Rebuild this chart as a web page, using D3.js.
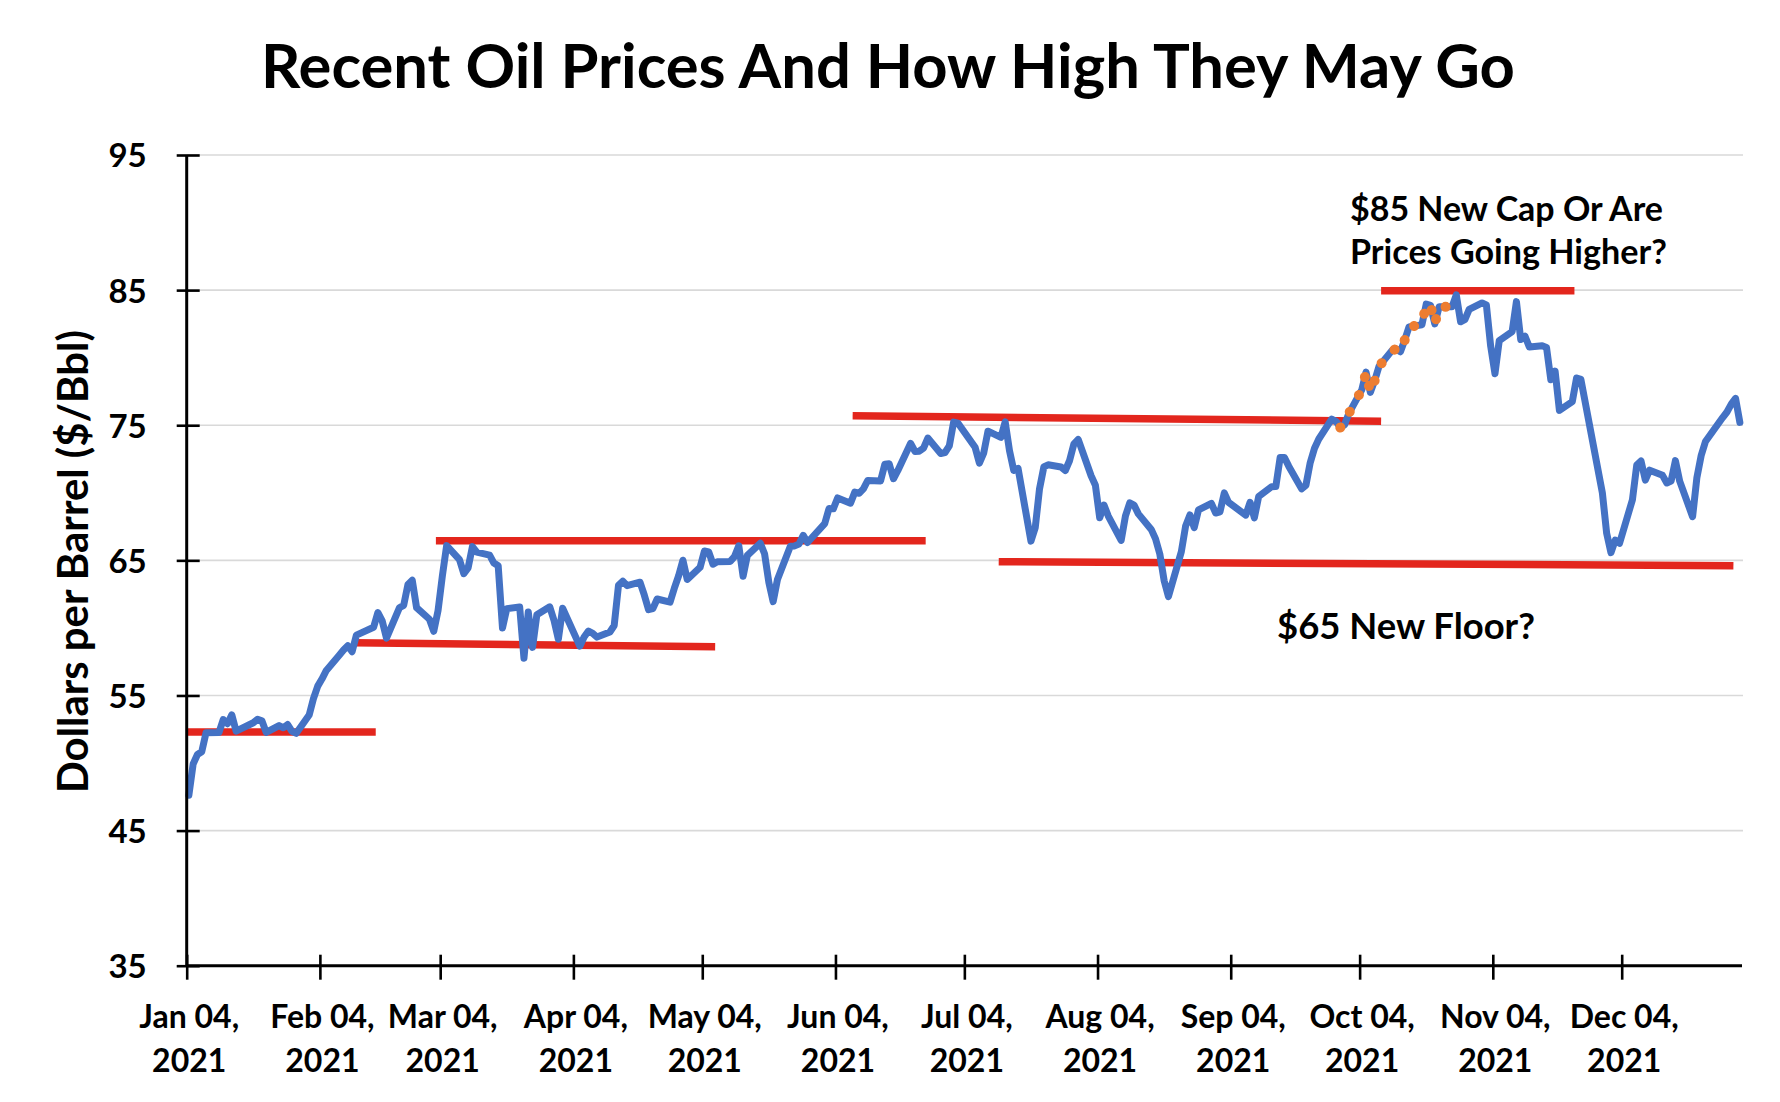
<!DOCTYPE html>
<html>
<head>
<meta charset="utf-8">
<script src="https://cdn.jsdelivr.net/npm/d3@7"></script>
<style>
  html, body { margin: 0; padding: 0; background: #ffffff; }
  svg { display: block; }
  text { font-family: Lato, "Open Sans", "DejaVu Sans", sans-serif; font-weight: 700; fill: #000; }
</style>
</head>
<body>
<svg id="chart" width="1780" height="1102"></svg>
<script>
// ---------------- DATA ----------------
const titleText = "Recent Oil Prices And How High They May Go";
const yAxisTitle = "Dollars per Barrel ($/Bbl)";

const dates = [
"2021-01-04","2021-01-05","2021-01-06","2021-01-07","2021-01-08","2021-01-11","2021-01-12","2021-01-13","2021-01-14","2021-01-15",
"2021-01-19","2021-01-20","2021-01-21","2021-01-22","2021-01-25","2021-01-26","2021-01-27","2021-01-28","2021-01-29",
"2021-02-01","2021-02-02","2021-02-03","2021-02-04","2021-02-05","2021-02-08","2021-02-09","2021-02-10","2021-02-11","2021-02-12",
"2021-02-16","2021-02-17","2021-02-18","2021-02-19","2021-02-22","2021-02-23","2021-02-24","2021-02-25","2021-02-26",
"2021-03-01","2021-03-02","2021-03-03","2021-03-04","2021-03-05","2021-03-08","2021-03-09","2021-03-10","2021-03-11","2021-03-12",
"2021-03-15","2021-03-16","2021-03-17","2021-03-18","2021-03-19","2021-03-22","2021-03-23","2021-03-24","2021-03-25","2021-03-26",
"2021-03-29","2021-03-30","2021-03-31",
"2021-04-01","2021-04-05","2021-04-06","2021-04-07","2021-04-08","2021-04-09","2021-04-12","2021-04-13","2021-04-14","2021-04-15",
"2021-04-16","2021-04-19","2021-04-20","2021-04-21","2021-04-22","2021-04-23","2021-04-26","2021-04-27","2021-04-28","2021-04-29","2021-04-30",
"2021-05-03","2021-05-04","2021-05-05","2021-05-06","2021-05-07","2021-05-10","2021-05-11","2021-05-12","2021-05-13","2021-05-14",
"2021-05-17","2021-05-18","2021-05-19","2021-05-20","2021-05-21","2021-05-24","2021-05-25","2021-05-26","2021-05-27","2021-05-28",
"2021-06-01","2021-06-02","2021-06-03","2021-06-04","2021-06-07","2021-06-08","2021-06-09","2021-06-10","2021-06-11",
"2021-06-14","2021-06-15","2021-06-16","2021-06-17","2021-06-18","2021-06-21","2021-06-22","2021-06-23","2021-06-24","2021-06-25",
"2021-06-28","2021-06-29","2021-06-30",
"2021-07-01","2021-07-02","2021-07-06","2021-07-07","2021-07-08","2021-07-09","2021-07-12","2021-07-13","2021-07-14","2021-07-15",
"2021-07-16","2021-07-19","2021-07-20","2021-07-21","2021-07-22","2021-07-23","2021-07-26","2021-07-27","2021-07-28","2021-07-29","2021-07-30",
"2021-08-02","2021-08-03","2021-08-04","2021-08-05","2021-08-06","2021-08-09","2021-08-10","2021-08-11","2021-08-12","2021-08-13",
"2021-08-16","2021-08-17","2021-08-18","2021-08-19","2021-08-20","2021-08-23","2021-08-24","2021-08-25","2021-08-26","2021-08-27",
"2021-08-30","2021-08-31",
"2021-09-01","2021-09-02","2021-09-03","2021-09-07","2021-09-08","2021-09-09","2021-09-10","2021-09-13","2021-09-14","2021-09-15",
"2021-09-16","2021-09-17","2021-09-20","2021-09-21","2021-09-22","2021-09-23","2021-09-24","2021-09-27","2021-09-28","2021-09-29","2021-09-30",
"2021-10-01","2021-10-04","2021-10-05","2021-10-06","2021-10-07","2021-10-08","2021-10-11","2021-10-12","2021-10-13","2021-10-14",
"2021-10-15","2021-10-18","2021-10-19","2021-10-20","2021-10-21","2021-10-22","2021-10-25","2021-10-26","2021-10-27","2021-10-28","2021-10-29",
"2021-11-01","2021-11-02","2021-11-03","2021-11-04","2021-11-05","2021-11-08","2021-11-09","2021-11-10","2021-11-11","2021-11-12",
"2021-11-15","2021-11-16","2021-11-17","2021-11-18","2021-11-19","2021-11-22","2021-11-23","2021-11-24","2021-11-29","2021-11-30",
"2021-12-01","2021-12-02","2021-12-03","2021-12-06","2021-12-07","2021-12-08","2021-12-09","2021-12-10","2021-12-13","2021-12-14",
"2021-12-15","2021-12-16","2021-12-17","2021-12-20","2021-12-21","2021-12-22","2021-12-23","2021-12-27","2021-12-28","2021-12-29",
"2021-12-30","2021-12-31"
];

const prices = [
47.62,49.93,50.63,50.83,52.24,52.25,53.21,52.91,53.57,52.36,
52.98,53.24,53.13,52.27,52.77,52.61,52.85,52.34,52.20,
53.55,54.76,55.69,56.23,56.85,57.97,58.36,58.68,58.24,59.47,
60.05,61.14,60.52,59.24,61.49,61.67,63.22,63.53,61.50,
60.64,59.75,61.28,63.83,66.09,65.05,64.01,64.44,66.02,65.61,
65.39,64.80,64.60,60.00,61.42,61.55,57.76,61.18,58.56,60.97,
61.56,60.55,59.16,
61.45,58.65,59.33,59.77,59.60,59.32,59.70,60.18,63.15,63.46,
63.13,63.38,62.44,61.35,61.43,62.14,61.91,62.94,63.86,65.01,63.58,
64.49,65.69,65.63,64.71,64.90,64.92,65.28,66.08,63.82,65.37,
66.27,65.49,63.36,61.94,63.58,66.05,66.07,66.21,66.85,66.32,
67.72,68.83,68.81,69.62,69.23,70.05,69.96,70.29,70.91,
70.88,72.12,72.15,71.04,71.64,73.66,73.06,73.08,73.30,74.05,
72.91,72.98,73.47,
75.23,75.16,73.37,72.20,72.94,74.56,74.10,75.25,73.13,71.65,
71.81,66.42,67.42,70.30,71.91,72.07,71.91,71.65,72.39,73.62,73.95,
71.26,70.56,68.15,69.09,68.28,66.48,68.29,69.25,69.09,68.44,
67.29,66.59,65.46,63.50,62.32,65.64,67.54,68.36,67.42,68.74,
69.21,68.50,
68.59,69.99,69.29,68.35,69.30,68.14,69.72,70.45,70.46,72.61,
72.61,71.97,70.29,70.56,72.23,73.30,73.98,75.45,75.29,74.83,75.03,
75.88,77.62,78.93,77.43,78.30,79.35,80.52,80.64,80.44,81.31,
82.28,82.44,83.96,83.87,82.50,83.76,83.76,84.65,82.66,82.81,83.57,
84.05,83.91,80.86,78.81,81.27,81.93,84.15,81.34,81.59,80.79,
80.88,80.76,78.36,79.01,76.10,76.75,78.50,78.39,70.00,67.00,
65.57,66.50,66.26,69.49,72.05,72.36,70.94,71.67,71.29,70.73,
70.87,72.38,70.86,68.23,71.12,72.76,73.79,75.57,75.98,76.56,
76.99,75.21
];

// dotted orange highlight over part of the series
const highlightStart = "2021-09-29";
const highlightEnd = "2021-10-25";

// support / resistance lines
const levelStartDates = ["2021-01-04","2021-02-12","2021-03-03","2021-06-08","2021-07-12","2021-10-09"];
const levelEndDates   = ["2021-02-17","2021-05-07","2021-06-25","2021-10-09","2021-12-30","2021-11-23"];
const levelStartValues = [52.3, 58.9, 66.45, 75.7, 64.9, 84.95];
const levelEndValues   = [52.3, 58.6, 66.45, 75.3, 64.6, 84.95];

const yTicks = [35, 45, 55, 65, 75, 85, 95];
const xTickDates = ["2021-01-04","2021-02-04","2021-03-04","2021-04-04","2021-05-04","2021-06-04",
                    "2021-07-04","2021-08-04","2021-09-04","2021-10-04","2021-11-04","2021-12-04"];
const xDomain = ["2021-01-04","2022-01-01"];

const capLabel = ["$85 New Cap Or Are", "Prices Going Higher?"];
const floorLabel = "$65 New Floor?";

// ---------------- DRAW ----------------
const parse = d3.timeParse("%Y-%m-%d");
const svg = d3.select("#chart");

const X0 = 186.7, X1 = 1742, YB = 965.7, YT = 155;
const x = d3.scaleTime().domain(xDomain.map(parse)).range([X0, X1]);
const y = d3.scaleLinear().domain([35, 95]).range([YB, YT]);
const xp = d => x(d3.timeHour.offset(d, 12)); // points centred on day slots

const series = dates.map((d, i) => ({ date: parse(d), value: prices[i] }));

function fit(sel, w) {
  const n = sel.node();
  const cur = n.getComputedTextLength();
  const fs = parseFloat(sel.attr("font-size"));
  sel.attr("font-size", (fs * w / cur).toFixed(2));
}

// gridlines
svg.append("g").selectAll("line")
  .data(yTicks.filter(v => v !== 35))
  .join("line")
  .attr("x1", X0).attr("x2", X1 + 1)
  .attr("y1", d => y(d)).attr("y2", d => y(d))
  .attr("stroke", "#d9d9d9").attr("stroke-width", 1.6);

// level lines (red)
svg.append("g").selectAll("line")
  .data(levelStartDates.map((d, i) => ({ s: parse(d), e: parse(levelEndDates[i]), a: levelStartValues[i], b: levelEndValues[i] })))
  .join("line")
  .attr("x1", d => x(d.s)).attr("x2", d => x(d.e))
  .attr("y1", d => y(d.a)).attr("y2", d => y(d.b))
  .attr("stroke", "#e3261d").attr("stroke-width", 7.5);

// price line
const line = d3.line().x(d => xp(d.date)).y(d => y(d.value));
svg.append("path")
  .datum(series)
  .attr("d", line)
  .attr("fill", "none")
  .attr("stroke", "#4472c4")
  .attr("stroke-width", 7)
  .attr("stroke-linejoin", "round")
  .attr("stroke-linecap", "round");

// orange dotted highlight
const hs = parse(highlightStart), he = parse(highlightEnd);
svg.append("path")
  .datum(series.filter(d => d.date >= hs && d.date <= he))
  .attr("d", line)
  .attr("fill", "none")
  .attr("stroke", "#ed7d31")
  .attr("stroke-width", 10)
  .attr("stroke-dasharray", "0.1 19")
  .attr("stroke-linecap", "round")
  .attr("stroke-linejoin", "round");

// y axis
const yAxis = svg.append("g")
  .attr("transform", `translate(${X0},0)`)
  .call(d3.axisLeft(y).tickValues(yTicks).tickSize(0).tickPadding(0).tickFormat(d3.format("d")));
yAxis.select(".domain").remove();
yAxis.selectAll(".tick line").remove();
yAxis.selectAll(".tick").append("line")
  .attr("x1", -10).attr("x2", 13).attr("stroke", "#000").attr("stroke-width", 2.6);
yAxis.selectAll(".tick text")
  .attr("x", -40).attr("dy", "0.36em")
  .attr("font-size", 33)
  .attr("font-family", "Lato, 'Open Sans', sans-serif")
  .attr("font-weight", 700)
  .attr("fill", "#000");
yAxis.append("line").attr("x1", 0).attr("x2", 0).attr("y1", YT).attr("y2", YB)
  .attr("stroke", "#000").attr("stroke-width", 3);

// x axis
const fmt1 = d3.timeFormat("%b %d,"), fmt2 = d3.timeFormat("%Y");
const xAxis = svg.append("g")
  .attr("transform", `translate(0,${YB})`)
  .call(d3.axisBottom(x).tickValues(xTickDates.map(parse)).tickSize(0).tickFormat(() => ""));
xAxis.select(".domain").remove();
xAxis.selectAll(".tick line").remove();
xAxis.selectAll(".tick").append("line")
  .attr("y1", -11).attr("y2", 14).attr("stroke", "#000").attr("stroke-width", 2.6);
xAxis.selectAll(".tick text").remove();
const xl = xAxis.selectAll(".tick").append("text")
  .attr("text-anchor", "middle")
  .attr("font-size", 32);
xl.append("tspan").attr("x", 2).attr("y", 62.5).text(d => fmt1(d));
xl.append("tspan").attr("x", 2).attr("y", 106.5).text(d => fmt2(d));
xAxis.append("line").attr("x1", X0).attr("x2", X1).attr("y1", 0).attr("y2", 0)
  .attr("stroke", "#000").attr("stroke-width", 3);

// title
const t = svg.append("text")
  .attr("x", 888).attr("y", 88)
  .attr("text-anchor", "middle")
  .attr("font-size", 58)
  .text(titleText);
fit(t, 1254);

// y axis title
const yt = svg.append("text")
  .attr("transform", "translate(88,561.5) rotate(-90)")
  .attr("text-anchor", "middle")
  .attr("font-size", 40)
  .text(yAxisTitle);
fit(yt, 463);

// annotations
const c1 = svg.append("text").attr("x", 1350).attr("y", 221).attr("font-size", 32).text(capLabel[0]);
fit(c1, 313);
const c2 = svg.append("text").attr("x", 1350).attr("y", 264).attr("font-size", 32).text(capLabel[1]);
fit(c2, 317);
const f1 = svg.append("text").attr("x", 1277).attr("y", 639).attr("font-size", 32).text(floorLabel);
fit(f1, 258);
</script>
</body>
</html>
